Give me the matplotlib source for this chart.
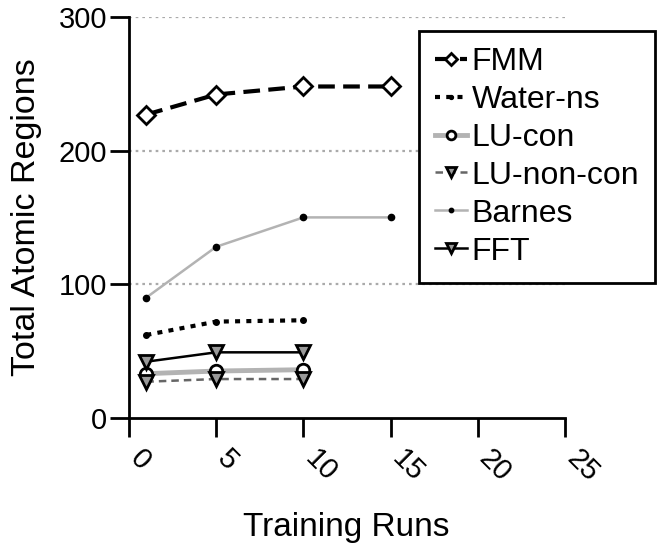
import matplotlib.pyplot as plt
from matplotlib.transforms import ScaledTranslation

plt.rcParams['font.family'] = ['Liberation Sans', 'DejaVu Sans']

# Training runs (x) and total atomic regions per benchmark
runs_long = [1, 5, 10, 15]
runs_short = [1, 5, 10]

fmm = [227, 242, 248, 248]
water_ns = [62, 72, 73]
lu_con = [33, 35, 36]
lu_non_con = [27, 29, 29]
barnes = [90, 128, 150, 150]
fft = [42, 49, 49]

fig = plt.figure(figsize=(6.61, 5.49), dpi=100)
ax = fig.add_axes([0.195, 0.239, 0.66, 0.73])

for yv in [100, 200, 300]:
    ax.axhline(yv, color='#aaaaaa', linestyle=(0, (1.2, 1.8)), linewidth=1.6, zorder=0)

ax.plot(runs_long, fmm, color='black', linestyle=(0, (4, 2)), linewidth=3,
        marker='D', markersize=9, markerfacecolor='white', markeredgecolor='black',
        markeredgewidth=2, label='FMM')
ax.plot(runs_short, water_ns, color='black', linestyle=(0, (1.2, 1.5)), linewidth=3,
        marker='o', markersize=4, label='Water-ns')
ax.plot(runs_short, lu_con, color='#b3b3b3', linestyle='-', linewidth=3.5,
        marker='o', markersize=9, markerfacecolor='white', markeredgecolor='black',
        markeredgewidth=2, label='LU-con')
ax.plot(runs_short, lu_non_con, color='#666666', linestyle=(0, (3, 2)), linewidth=1.8,
        marker='v', markersize=10, markerfacecolor='#999999', markeredgecolor='black',
        markeredgewidth=2, label='LU-non-con')
ax.plot(runs_long, barnes, color='#b3b3b3', linestyle='-', linewidth=1.8,
        marker='o', markersize=4.5, markerfacecolor='black', markeredgecolor='black',
        label='Barnes')
ax.plot(runs_short, fft, color='black', linestyle='-', linewidth=1.8,
        marker='v', markersize=10, markerfacecolor='#999999', markeredgecolor='black',
        markeredgewidth=2, label='FFT')

ax.set_xlim(0, 25)
ax.set_ylim(0, 300)
ax.set_xticks([0, 5, 10, 15, 20, 25])
ax.set_yticks([0, 100, 200, 300])

for side in ['top', 'right']:
    ax.spines[side].set_visible(False)
for side in ['left', 'bottom']:
    ax.spines[side].set_linewidth(2)

ax.tick_params(axis='x', length=14, width=2, labelsize=21, pad=12)
ax.tick_params(axis='y', length=14, width=2, labelsize=21, pad=1.5)
shift = ScaledTranslation(4 / 72, 0, fig.dpi_scale_trans)
for lbl in ax.get_xticklabels():
    lbl.set_rotation(-45)
    lbl.set_rotation_mode('anchor')
    lbl.set_ha('left')
    lbl.set_va('center')
    lbl.set_transform(lbl.get_transform() + shift)

ax.set_xlabel('Training Runs', fontsize=24)
ax.xaxis.set_label_coords(0.498, -0.234)
ax.set_ylabel('Total Atomic Regions', fontsize=24.5)
ax.yaxis.set_label_coords(-0.2, 0.5)

leg = fig.legend(loc='upper left', bbox_to_anchor=(0.634, 0.944), fontsize=23,
                 frameon=True, fancybox=False, handlelength=1.0, handletextpad=0.15,
                 labelspacing=0.25, borderpad=0.5, borderaxespad=0.0, markerscale=0.7)
leg.get_frame().set_edgecolor('black')
leg.get_frame().set_linewidth(2)
leg.get_frame().set_alpha(1)

fig.savefig('out.png', dpi=100)
